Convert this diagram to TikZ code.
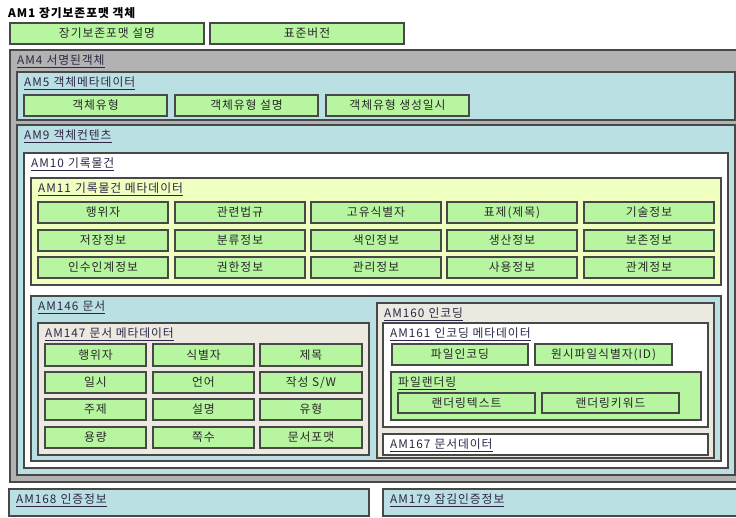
\documentclass[tikz,border=0pt]{standalone}
\usepackage{fontspec}
\setmainfont{Noto Sans CJK KR}[LetterSpace=8]
\definecolor{lgreen}{RGB}{183,245,160}
\definecolor{cgray}{RGB}{178,178,178}
\definecolor{cblue}{RGB}{187,224,227}
\definecolor{cyellow}{RGB}{238,255,192}
\definecolor{cbeige}{RGB}{236,233,224}
\definecolor{bd}{RGB}{72,72,72}
\definecolor{lblc}{RGB}{45,38,70}
\definecolor{txc}{RGB}{40,40,40}
\newcommand\fs{\fontsize{11.8}{13}\selectfont}
\newcommand\bx[7]{\node[#1, minimum width={#5-#3}, minimum height={#6-#4}] (#2) at (#3,#4) {#7};}
\newcommand\lb[3]{\node[lbl] (#1-l) at ([xshift=7pt,yshift=-14.5pt]#1.north west) {\underline{#2\hspace{0.35em}#3}};}
\tikzset{
  base/.style={draw=bd, line width=1.1pt, inner sep=0pt, outer sep=0pt, anchor=north west},
  leaf/.style={base, fill=lgreen, font=\fs, text=txc},
  grayc/.style={base, fill=cgray},
  bluec/.style={base, fill=cblue},
  whitec/.style={base, fill=white},
  yellowc/.style={base, fill=cyellow},
  beigec/.style={base, fill=cbeige},
  greenc/.style={base, fill=lgreen},
  lbl/.style={anchor=base west, inner sep=0pt, text=lblc, font=\fs},
  ttl/.style={anchor=base west, inner sep=0pt, text=black, font=\fs\bfseries}
}
\begin{document}
\begin{tikzpicture}[x=1pt,y=-1pt]
\useasboundingbox (0,0) rectangle (736,517);
\clip (0,0) rectangle (736,517);
\fill[white] (0,0) rectangle (736,517);
% title
\node[ttl] (am1) at (8,17) {AM1 장기보존포맷 객체};
\bx{leaf}{desc}{10}{23}{204}{44}{장기보존포맷 설명}
\bx{leaf}{ver}{210}{23}{404}{44}{표준버전}
% AM4
\bx{grayc}{am4}{10}{50}{745}{482}{}
\lb{am4}{AM4}{서명된객체}
% AM5
\bx{bluec}{am5}{17}{72}{735}{120}{}
\lb{am5}{AM5}{객체메타데이터}
\bx{leaf}{ot}{24}{95}{167}{116}{객체유형}
\bx{leaf}{otd}{175}{95}{318}{116}{객체유형 설명}
\bx{leaf}{otc}{326}{95}{469}{116}{객체유형 생성일시}
% AM9
\bx{bluec}{am9}{17}{125}{735}{475}{}
\lb{am9}{AM9}{객체컨텐츠}
% AM10
\bx{whitec}{am10}{24}{153}{728}{468}{}
\lb{am10}{AM10}{기록물건}
% AM11
\bx{yellowc}{am11}{31}{178}{721}{285}{}
\lb{am11}{AM11}{기록물건 메타데이터}
\bx{leaf}{a11}{38}{202}{168}{223}{행위자}
\bx{leaf}{a12}{175}{202}{305}{223}{관련법규}
\bx{leaf}{a13}{311}{202}{441}{223}{고유식별자}
\bx{leaf}{a14}{447}{202}{577}{223}{표제(제목)}
\bx{leaf}{a15}{584}{202}{714}{223}{기술정보}
\bx{leaf}{a21}{38}{230}{168}{251}{저장정보}
\bx{leaf}{a22}{175}{230}{305}{251}{분류정보}
\bx{leaf}{a23}{311}{230}{441}{251}{색인정보}
\bx{leaf}{a24}{447}{230}{577}{251}{생산정보}
\bx{leaf}{a25}{584}{230}{714}{251}{보존정보}
\bx{leaf}{a31}{38}{257}{168}{278}{인수인계정보}
\bx{leaf}{a32}{175}{257}{305}{278}{권한정보}
\bx{leaf}{a33}{311}{257}{441}{278}{관리정보}
\bx{leaf}{a34}{447}{257}{577}{278}{사용정보}
\bx{leaf}{a35}{584}{257}{714}{278}{관계정보}
% AM146
\bx{bluec}{am146}{31}{296}{721}{461}{}
\lb{am146}{AM146}{문서}
% AM147
\bx{beigec}{am147}{38}{323}{369}{455}{}
\lb{am147}{AM147}{문서 메타데이터}
\bx{leaf}{b11}{45}{344}{146}{366}{행위자}
\bx{leaf}{b12}{153}{344}{254}{366}{식별자}
\bx{leaf}{b13}{260}{344}{362}{366}{제목}
\bx{leaf}{b21}{45}{372}{146}{393}{일시}
\bx{leaf}{b22}{153}{372}{254}{393}{언어}
\bx{leaf}{b23}{260}{372}{362}{393}{작성 S/W}
\bx{leaf}{b31}{45}{399}{146}{420}{주제}
\bx{leaf}{b32}{153}{399}{254}{420}{설명}
\bx{leaf}{b33}{260}{399}{362}{420}{유형}
\bx{leaf}{b41}{45}{427}{146}{448}{용량}
\bx{leaf}{b42}{153}{427}{254}{448}{쪽수}
\bx{leaf}{b43}{260}{427}{362}{448}{문서포맷}
% AM160
\bx{beigec}{am160}{377}{303}{714}{458}{}
\lb{am160}{AM160}{인코딩}
% AM161
\bx{whitec}{am161}{383}{323}{708}{427}{}
\lb{am161}{AM161}{인코딩 메타데이터}
\bx{leaf}{fenc}{392}{344}{528}{365}{파일인코딩}
\bx{leaf}{fid}{535}{344}{672}{365}{원시파일식별자(ID)}
\bx{greenc}{frend}{391}{372}{701}{420}{}
\node[lbl, text=txc] (frend-l) at ([xshift=7pt,yshift=-14.5pt]frend.north west) {\underline{파일랜더링}};
\bx{leaf}{rtext}{398}{393}{535}{413}{랜더링텍스트}
\bx{leaf}{rkey}{542}{393}{679}{413}{랜더링키워드}
% AM167
\bx{whitec}{am167}{383}{434}{708}{455}{}
\lb{am167}{AM167}{문서데이터}
% AM168 / AM179
\bx{bluec}{am168}{9}{489}{369}{516}{}
\lb{am168}{AM168}{인증정보}
\bx{bluec}{am179}{383}{489}{745}{516}{}
\lb{am179}{AM179}{잠김인증정보}
\end{tikzpicture}
\end{document}
